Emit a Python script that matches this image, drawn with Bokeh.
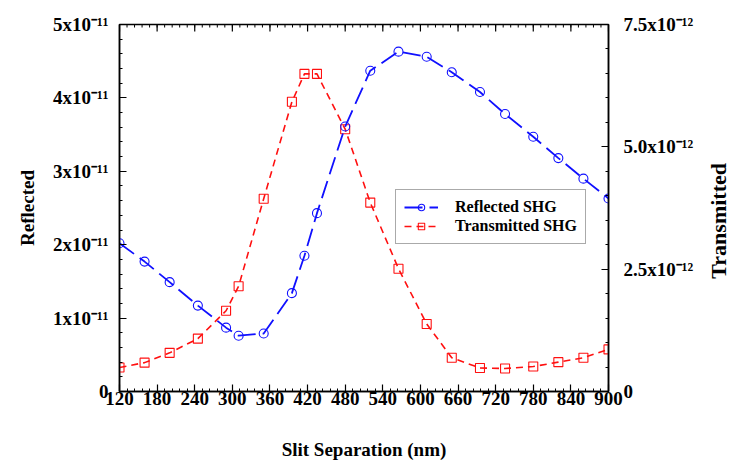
import math
from bokeh.plotting import figure
from bokeh.layouts import row
from bokeh.models import Range1d, LinearAxis, FixedTicker, Legend, LegendItem, Div
from bokeh.embed import file_html
from bokeh.resources import INLINE

# ---- data ----
slit_nm = [120, 160, 200, 245, 290, 310, 350, 395, 415, 435, 480,
           520, 565, 610, 650, 695, 735, 780, 820, 860, 900]
reflected = [2.02e-11, 1.77e-11, 1.49e-11, 1.17e-11, 0.87e-11, 0.76e-11, 0.79e-11,
             1.34e-11, 1.85e-11, 2.43e-11, 3.61e-11, 4.37e-11, 4.63e-11, 4.56e-11,
             4.35e-11, 4.08e-11, 3.78e-11, 3.47e-11, 3.18e-11, 2.90e-11, 2.63e-11]
transmitted = [0.49e-12, 0.59e-12, 0.79e-12, 1.08e-12, 1.65e-12, 2.15e-12, 3.94e-12,
               5.92e-12, 6.49e-12, 6.49e-12, 5.36e-12, 3.86e-12, 2.51e-12, 1.38e-12,
               0.69e-12, 0.48e-12, 0.47e-12, 0.51e-12, 0.60e-12, 0.69e-12, 0.86e-12]

x_ticks = [120, 180, 240, 300, 360, 420, 480, 540, 600, 660, 720, 780, 840, 900]
x_minor = list(range(120, 901, 12))
left_ticks = [0, 1e-11, 2e-11, 3e-11, 4e-11, 5e-11]
left_labels = ["0", "1x10\u207b\u00b9\u00b9", "2x10\u207b\u00b9\u00b9", "3x10\u207b\u00b9\u00b9",
               "4x10\u207b\u00b9\u00b9", "5x10\u207b\u00b9\u00b9"]
left_minor = [i * 2e-12 for i in range(26)]
right_ticks = [0, 2.5e-12, 5.0e-12, 7.5e-12]
right_labels = ["0", "2.5x10\u207b\u00b9\u00b2", "5.0x10\u207b\u00b9\u00b2", "7.5x10\u207b\u00b9\u00b2"]
right_minor = [i * 0.5e-12 for i in range(16)]

FONT = "Liberation Serif"
BLUE = "#1010ff"
RED = "#ff1010"

p = figure(width=708, height=462, output_backend="svg", toolbar_location=None,
           x_range=Range1d(120, 900), y_range=Range1d(0, 5e-11),
           min_border_left=119, min_border_right=100, min_border_top=24,
           min_border_bottom=69, x_axis_location=None, y_axis_location=None,
           margin=0)
p.extra_y_ranges = {"trans": Range1d(0, 7.5e-12)}
p.xgrid.grid_line_color = None
p.ygrid.grid_line_color = None
p.outline_line_color = "black"
p.outline_line_width = 1.5
p.background_fill_color = "white"
p.border_fill_color = "white"


def style(ax):
    ax.axis_line_width = 1.5
    ax.major_tick_in = 7
    ax.major_tick_out = 0
    ax.minor_tick_in = 3
    ax.minor_tick_out = 0
    ax.major_tick_line_width = 1.2
    ax.minor_tick_line_width = 1
    ax.major_label_text_font = FONT
    ax.major_label_text_font_style = "bold"
    ax.major_label_text_font_size = "19px"
    ax.major_label_text_color = "black"
    ax.axis_label_text_font = FONT
    ax.axis_label_text_font_style = "bold"
    ax.axis_label_text_font_size = "19px"
    ax.axis_label_text_color = "black"


xb = LinearAxis(ticker=FixedTicker(ticks=x_ticks, minor_ticks=x_minor),
                axis_label="Slit Separation (nm)")
style(xb)
xb.major_label_standoff = 0
xb.axis_label_standoff = 31
p.add_layout(xb, "below")

yl = LinearAxis(ticker=FixedTicker(ticks=left_ticks, minor_ticks=left_minor),
                axis_label="Reflected")
style(yl)
yl.major_label_overrides = dict(zip(left_ticks, left_labels))
yl.major_label_standoff = 11
yl.axis_label_standoff = 12
p.add_layout(yl, "left")

yr = LinearAxis(y_range_name="trans",
                ticker=FixedTicker(ticks=right_ticks, minor_ticks=right_minor))
style(yr)
yr.major_label_overrides = dict(zip(right_ticks, right_labels))
yr.major_label_standoff = 15
p.add_layout(yr, "right")

# inward ticks along the top edge of the frame
p.scatter(x_ticks, [p.y_range.end] * len(x_ticks), marker="dash", angle=math.pi / 2,
          size=14, line_color="black", line_width=1.2)
p.scatter(x_minor, [p.y_range.end] * len(x_minor), marker="dash", angle=math.pi / 2,
          size=6, line_color="black", line_width=1)

# ---- series ----
rl = p.line(slit_nm, transmitted, y_range_name="trans", line_color=RED,
            line_width=1.6, line_dash="7 5")
rs = p.scatter(slit_nm, transmitted, y_range_name="trans", marker="square",
               size=9, line_color=RED, fill_color=None, line_width=1.1)
bl = p.line(slit_nm, reflected, line_color=BLUE, line_width=1.8, line_dash="18 7")
bs = p.scatter(slit_nm, reflected, marker="circle", size=9, line_color=BLUE,
               fill_color=None, line_width=1.1)

legend = Legend(items=[LegendItem(label="Reflected SHG", renderers=[bl, bs]),
                       LegendItem(label="Transmitted SHG", renderers=[rl, rs])],
                location=(276, 147), orientation="vertical")
legend.border_line_color = "#555555"
legend.border_line_width = 1.5
legend.background_fill_color = "white"
legend.background_fill_alpha = 1
legend.padding = 8
legend.spacing = 1
legend.margin = 0
legend.glyph_width = 34
legend.glyph_height = 16
legend.label_standoff = 17
legend.label_text_font = FONT
legend.label_text_font_style = "bold"
legend.label_text_font_size = "16px"
legend.label_text_color = "black"
p.add_layout(legend, "center")

# right-hand axis title, reading upward as in the reference
right_title = Div(
    text=('<div style="padding-top:163px;">'
          '<div style="writing-mode:vertical-rl;transform:rotate(180deg);'
          "font-family:'Liberation Serif';font-weight:bold;font-size:22px;"
          'line-height:22px;white-space:nowrap;color:black;">Transmitted</div></div>'),
    width=22, height=462, margin=0)

layout = row(p, right_title, spacing=0)
open("out.html", "w").write(file_html(layout, INLINE))
